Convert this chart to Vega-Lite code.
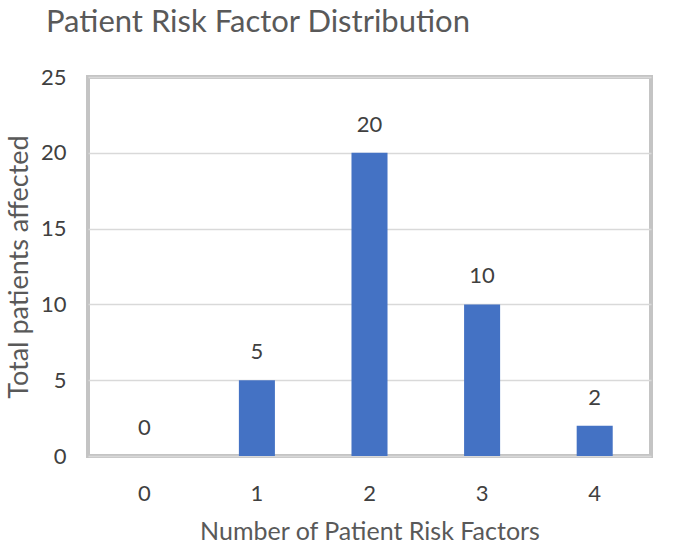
{
  "$schema": "https://vega.github.io/schema/vega-lite/v6.json",
  "autosize": "none",
  "width": 563,
  "height": 379,
  "padding": {"left": 88, "top": 77, "right": 23, "bottom": 88},
  "background": "white",
  "title": {
    "text": "Patient Risk Factor Distribution",
    "anchor": "start",
    "frame": "group",
    "dx": -42,
    "offset": 27,
    "fontSize": 31,
    "font": "Lato",
    "fontWeight": "normal",
    "color": "#595959"
  },
  "config": {
    "view": {"stroke": "#c4c4c4", "strokeWidth": 4},
    "font": "Lato"
  },
  "data": {
    "values": [
      {"factors": "0", "patients": 0},
      {"factors": "1", "patients": 5},
      {"factors": "2", "patients": 20},
      {"factors": "3", "patients": 10},
      {"factors": "4", "patients": 2}
    ]
  },
  "encoding": {
    "x": {
      "field": "factors",
      "type": "ordinal",
      "sort": null,
      "scale": {"paddingInner": 0.68, "paddingOuter": 0.34},
      "axis": {
        "title": "Number of Patient Risk Factors",
        "labelAngle": 0,
        "labelFontSize": 22,
        "labelColor": "#404040",
        "labelPadding": 27,
        "ticks": false,
        "domain": false,
        "titleFontSize": 25,
        "titleFontWeight": "normal",
        "titleColor": "#595959",
        "titlePadding": 15
      }
    },
    "y": {
      "field": "patients",
      "type": "quantitative",
      "scale": {"domain": [0, 25]},
      "axis": {
        "title": "Total patients affected",
        "values": [0, 5, 10, 15, 20, 25],
        "labelFontSize": 22,
        "labelColor": "#404040",
        "labelPadding": 22,
        "ticks": false,
        "domain": false,
        "gridColor": "#d9d9d9",
        "gridWidth": 1.5,
        "titleFontSize": 27,
        "titleFontWeight": "normal",
        "titleColor": "#595959",
        "titlePadding": 7
      }
    }
  },
  "layer": [
    {"mark": {"type": "bar", "color": "#4472C4"}},
    {
      "mark": {"type": "text", "dy": -28, "fontSize": 22, "color": "#404040"},
      "encoding": {"text": {"field": "patients", "type": "quantitative"}}
    }
  ]
}
